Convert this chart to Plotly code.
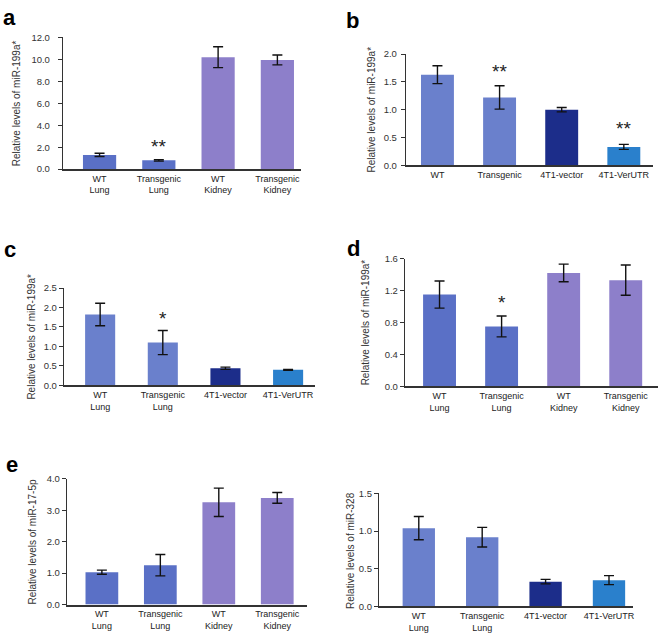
import plotly.graph_objects as go

W, H = 662, 640

# ---------- data ----------
cats_lk = ["WT<br>Lung", "Transgenic<br>Lung", "WT<br>Kidney", "Transgenic<br>Kidney"]
cats_b = ["WT", "Transgenic", "4T1-vector", "4T1-VerUTR"]
cats_c = ["WT<br>Lung", "Transgenic<br>Lung", "4T1-vector", "4T1-VerUTR"]

a_vals = [1.30, 0.80, 10.20, 9.95]
a_err = [0.15, 0.07, 0.95, 0.45]

b_vals = [1.63, 1.22, 1.00, 0.33]
b_err = [0.16, 0.21, 0.04, 0.045]

c_vals = [1.82, 1.10, 0.44, 0.40]
c_err = [0.29, 0.31, 0.03, 0.01]

d_vals = [1.15, 0.75, 1.42, 1.33]
d_err = [0.17, 0.13, 0.11, 0.19]

e1_vals = [1.03, 1.25, 3.25, 3.39]
e1_err = [0.065, 0.34, 0.45, 0.17]

e2_vals = [1.04, 0.92, 0.33, 0.35]
e2_err = [0.155, 0.13, 0.03, 0.06]

# significance markers: (bar index, height of marker centre, text)
a_stars = [(1, 1.75, "**")]
b_stars = [(1, 1.64, "**"), (3, 0.61, "**")]
c_stars = [(1, 1.63, "*")]
d_stars = [(1, 1.01, "*")]

LUNG = "#5a70c6"
KID = "#8d7fca"
LB = "#6a80cc"
NAVY = "#1c2d8a"
SKY = "#2a80cc"

panels = [
    dict(c=cats_lk, v=a_vals, e=a_err, col=[LUNG, LUNG, KID, KID], box=(63, 302, 32, 166),
         xr=[-0.62, 3.4], yr=[0, 12], dt=2, yt="Relative levels of miR-199a*", bw=0.56,
         stars=a_stars, lab="a", lp=(10, 12), tx=16, so=6),
    dict(c=cats_b, v=b_vals, e=b_err, col=[LB, LB, NAVY, SKY], box=(407, 655, 49, 162),
         xr=[-0.51, 3.47], yr=[0, 2], dt=0.5, yt="Relative levels of miR-199a*", bw=0.53,
         stars=b_stars, lab="b", lp=(354, 15), tx=373, so=2),
    dict(c=cats_c, v=c_vals, e=c_err, col=[LB, LB, NAVY, SKY], box=(64, 316, 287, 386),
         xr=[-0.58, 3.43], yr=[0, 2.5], dt=0.5, yt="Relative levels of miR-199a*", bw=0.48,
         stars=c_stars, lab="c", lp=(10, 248), tx=32, so=0),
    dict(c=cats_lk, v=d_vals, e=d_err, col=[LUNG, LUNG, KID, KID], box=(406, 660, 257, 387),
         xr=[-0.56, 3.52], yr=[0, 1.6], dt=0.4, yt="Relative levels of miR-199a*", bw=0.53,
         stars=d_stars, lab="d", lp=(355, 247), tx=367, so=0),
    dict(c=cats_lk, v=e1_vals, e=e1_err, col=[LUNG, LUNG, KID, KID], box=(67, 308, 481, 609),
         xr=[-0.6, 3.51], yr=[0, 4], dt=1, yt="Relative levels of miR-17-5p", bw=0.56,
         stars=[], lab="e", lp=(12, 467), tx=33, so=0),
    dict(c=cats_c, v=e2_vals, e=e2_err, col=[LB, LB, NAVY, SKY], box=(380, 635, 496, 611),
         xr=[-0.63, 3.38], yr=[0, 1.5], dt=0.5, yt="Relative levels of miR-328", bw=0.51,
         stars=[], lab=None, lp=None, tx=352, so=0),
]

fig = go.Figure()
annotations = []
FONT = "Liberation Sans, Arial, sans-serif"

for i, p in enumerate(panels):
    n = "" if i == 0 else str(i + 1)
    x0, x1, yt_, yb = p["box"]
    fig.add_trace(go.Bar(
        x=p["c"], y=p["v"], marker=dict(color=p["col"], line=dict(width=0)),
        width=p["bw"],
        error_y=dict(type="data", array=p["e"], color="#111", thickness=1.4, width=5),
        xaxis="x" + n, yaxis="y" + n, showlegend=False))
    fig.layout["xaxis" + n] = dict(
        domain=[x0 / W, x1 / W], anchor="y" + n, type="category", range=p["xr"],
        showline=True, linecolor="#333", linewidth=1.5, ticks="", showgrid=False,
        tickfont=dict(size=9, color="#222", family=FONT), fixedrange=True)
    fig.layout["yaxis" + n] = dict(
        domain=[1 - yb / H, 1 - yt_ / H], anchor="x" + n, range=p["yr"], dtick=p["dt"],
        tick0=0, tickformat=".1f", showline=True, linecolor="#333", linewidth=1,
        ticks="outside", ticklen=4, tickcolor="#333", showgrid=False, zeroline=False,
        ticklabelstandoff=p["so"],
        tickfont=dict(size=9.5, color="#333", family=FONT))
    annotations.append(dict(
        text=p["yt"], textangle=-90, xref="paper", yref="paper",
        x=p["tx"] / W, y=1 - (yt_ + yb) / 2 / H, showarrow=False,
        font=dict(size=10, color="#333", family=FONT), xanchor="center", yanchor="middle"))
    for (xi, yv, s) in p["stars"]:
        annotations.append(dict(
            text=s, x=p["c"][xi], y=yv, xref="x" + n, yref="y" + n, showarrow=False,
            font=dict(size=19, color="#222", family=FONT), yanchor="middle", yshift=3))
    if p["lab"]:
        annotations.append(dict(
            text="<b>%s</b>" % p["lab"], xref="paper", yref="paper",
            x=p["lp"][0] / W, y=1 - p["lp"][1] / H, showarrow=False,
            font=dict(size=22, color="#000", family="Liberation Sans, Arial"),
            xanchor="center", yanchor="middle"))

fig.update_layout(
    width=W, height=H, margin=dict(l=0, r=0, t=0, b=0),
    paper_bgcolor="white", plot_bgcolor="white", annotations=annotations,
    font=dict(family=FONT))

fig.write_html("out.html", config={"displayModeBar": False},
               post_script="document.body.style.margin='0';document.body.style.overflow='hidden';")
